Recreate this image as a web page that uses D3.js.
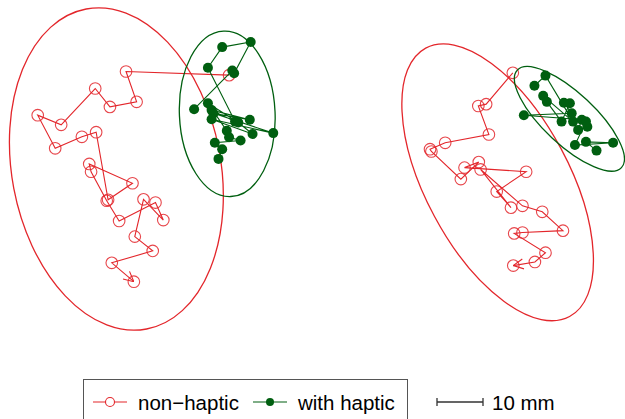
<!DOCTYPE html>
<html>
<head>
<meta charset="utf-8">
<script src="https://cdn.jsdelivr.net/npm/d3@7"></script>
<style>
  html, body { margin: 0; padding: 0; background: #fff; }
  svg { display: block; }
</style>
</head>
<body>
<svg id="chart" width="625" height="419"></svg>
<script>
// trajectories in mm (x right, y up)
const leftNonHaptic = [
  [49.8,55.4],[27.4,56.2],[29.7,49.6],[23.9,48.5],[20.7,52.5],[13.3,44.6],[8.2,46.7],
  [12.0,39.5],[17.8,42.0],[20.9,43.0],[23.5,28.3],[28.8,31.9],[19.4,36.1],[19.8,34.4],
  [23.2,28.1],[25.9,23.7],[33.8,27.7],[35.5,23.9],[31.2,28.4],[29.3,20.3],[33.2,17.2],
  [24.3,14.6],[29.1,10.5]
];
const leftHaptic = [
  [42.2,48.0],[50.5,56.4],[50.9,55.8],[54.5,62.6],[48.3,61.5],[45.2,57.0],[51.1,45.3],
  [46.0,47.8],[54.3,45.7],[46.4,47.1],[59.4,42.8],[46.0,45.8],[54.9,42.6],[51.8,45.1],
  [45.2,49.3],[49.3,43.3],[49.8,41.9],[52.3,41.2],[46.7,40.7],[48.3,39.3],[47.5,37.2]
];
const rightNonHaptic = [
  [26.7,55.9],[20.9,49.1],[19.2,48.7],[21.5,42.5],[12.0,40.7],[8.7,39.3],[9.0,38.8],
  [15.4,32.8],[19.3,36.5],[16.2,35.3],[29.6,34.4],[23.2,30.1],[26.3,26.6],[19.7,34.9],
  [28.8,27.0],[33.1,25.7],[37.6,21.6],[28.8,21.2],[27.0,21.0],[33.8,16.8],[31.5,14.8],
  [26.8,14.0]
];
const rightHaptic = [
  [31.4,53.1],[33.8,55.3],[39.8,45.3],[33.3,50.9],[34.1,49.6],[37.3,45.3],[39.1,49.3],
  [37.8,49.4],[39.5,47.1],[29.1,46.7],[41.7,45.7],[40.9,43.5],[42.9,44.2],[42.6,45.3],
  [40.2,40.2],[48.5,40.7],[42.6,40.9],[44.9,39.0]
];
// spread ellipses: centre x, centre y, semi-axis across, semi-axis along, tilt (deg)
const leftEllipses  = [[25.3,35.0,22.7,35.4,-10.7],[49.4,47.0,10.4,18.0,-2.5]];
const rightEllipses = [[23.4,32.1,15.6,33.1,-28.2],[39.0,45.9,5.6,15.5,-46.9]];
const legendLabels = ["non\u2212haptic", "with haptic"];
const scaleBarMm = 10;

const RED = "#e3262b", GREEN = "#005f10";
const PXMM = 4.6;

const svg = d3.select("#chart");

function arrowMarker(id, color) {
  svg.append("defs").append("marker")
    .attr("id", id)
    .attr("viewBox", "-12 -6 12 12")
    .attr("refX", 0).attr("refY", 0)
    .attr("markerUnits", "userSpaceOnUse")
    .attr("markerWidth", 12).attr("markerHeight", 12)
    .attr("orient", "auto")
    .append("path").attr("d", "M-10,-5L0,0L-10,5")
    .attr("fill", "none").attr("stroke", color).attr("stroke-width", 1.1);
}
arrowMarker("arrRed", RED);

function drawPanel(x0, nonHaptic, haptic, ellipses) {
  const x = d3.scaleLinear().domain([0, 65]).range([x0, x0 + 65 * PXMM]);
  const y = d3.scaleLinear().domain([0, 72]).range([330, 330 - 72 * PXMM]);
  const g = svg.append("g");
  const line = d3.line().x(d => x(d[0])).y(d => y(d[1]));

  const ell = (e, color) => {
    const sx = x(e[2]) - x(0), sy = y(0) - y(e[3]);
    g.append("ellipse")
      .attr("cx", 0).attr("cy", 0).attr("rx", sx).attr("ry", sy)
      .attr("transform", `translate(${x(e[0])},${y(e[1])}) rotate(${e[4]})`)
      .attr("fill", "none").attr("stroke", color).attr("stroke-width", 1.3);
  };

  ell(ellipses[0], RED);
  g.append("path").datum(nonHaptic).attr("d", line)
    .attr("fill", "none").attr("stroke", RED).attr("stroke-width", 1.1)
    .attr("marker-end", "url(#arrRed)");
  g.selectAll("circle.nh").data(nonHaptic).enter().append("circle")
    .attr("class", "nh")
    .attr("cx", d => x(d[0])).attr("cy", d => y(d[1])).attr("r", 5.8)
    .attr("fill", "none").attr("stroke", RED).attr("stroke-width", 1.1)
    .attr("stroke-opacity", 0.85);

  ell(ellipses[1], GREEN);
  g.append("path").datum(haptic).attr("d", line)
    .attr("fill", "none").attr("stroke", GREEN).attr("stroke-width", 1.1);
  g.selectAll("circle.h").data(haptic).enter().append("circle")
    .attr("class", "h")
    .attr("cx", d => x(d[0])).attr("cy", d => y(d[1])).attr("r", 5)
    .attr("fill", GREEN);
  return x;
}

const xl = drawPanel(0, leftNonHaptic, leftHaptic, leftEllipses);
drawPanel(390, rightNonHaptic, rightHaptic, rightEllipses);

// legend
const lg = svg.append("g");
lg.append("rect").attr("x", 83.5).attr("y", 379.5).attr("width", 324).attr("height", 60)
  .attr("fill", "#fff").attr("stroke", "#555").attr("stroke-width", 1);
const items = [
  { x: 93, color: RED, open: true, tx: 138 },
  { x: 253, color: GREEN, open: false, tx: 298 }
];
items.forEach((it, i) => {
  lg.append("line").attr("x1", it.x).attr("x2", it.x + 34).attr("y1", 402).attr("y2", 402)
    .attr("stroke", it.color).attr("stroke-width", 1.1);
  lg.append("circle").attr("cx", it.x + 17).attr("cy", 402).attr("r", it.open ? 4.5 : 4)
    .attr("fill", it.open ? "#fff" : it.color).attr("stroke", it.open ? it.color : "none")
    .attr("stroke-width", 1.1);
  lg.append("text").attr("x", it.tx).attr("y", 410)
    .attr("font-family", "Liberation Sans, Arial, sans-serif").attr("font-size", 20.5)
    .attr("fill", "#000").text(legendLabels[i]);
});

// scale bar
const barLen = xl(scaleBarMm) - xl(0);
const bx = 437, by = 402;
svg.append("path")
  .attr("d", `M${bx},${by}H${bx + barLen}M${bx},${by - 4}V${by + 4}M${bx + barLen},${by - 4}V${by + 4}`)
  .attr("stroke", "#333").attr("stroke-width", 1.3).attr("fill", "none");
svg.append("text").attr("x", bx + barLen + 9).attr("y", 410)
  .attr("font-family", "Liberation Sans, Arial, sans-serif").attr("font-size", 20.5)
  .attr("fill", "#000").text(`${scaleBarMm} mm`);
</script>
</body>
</html>
